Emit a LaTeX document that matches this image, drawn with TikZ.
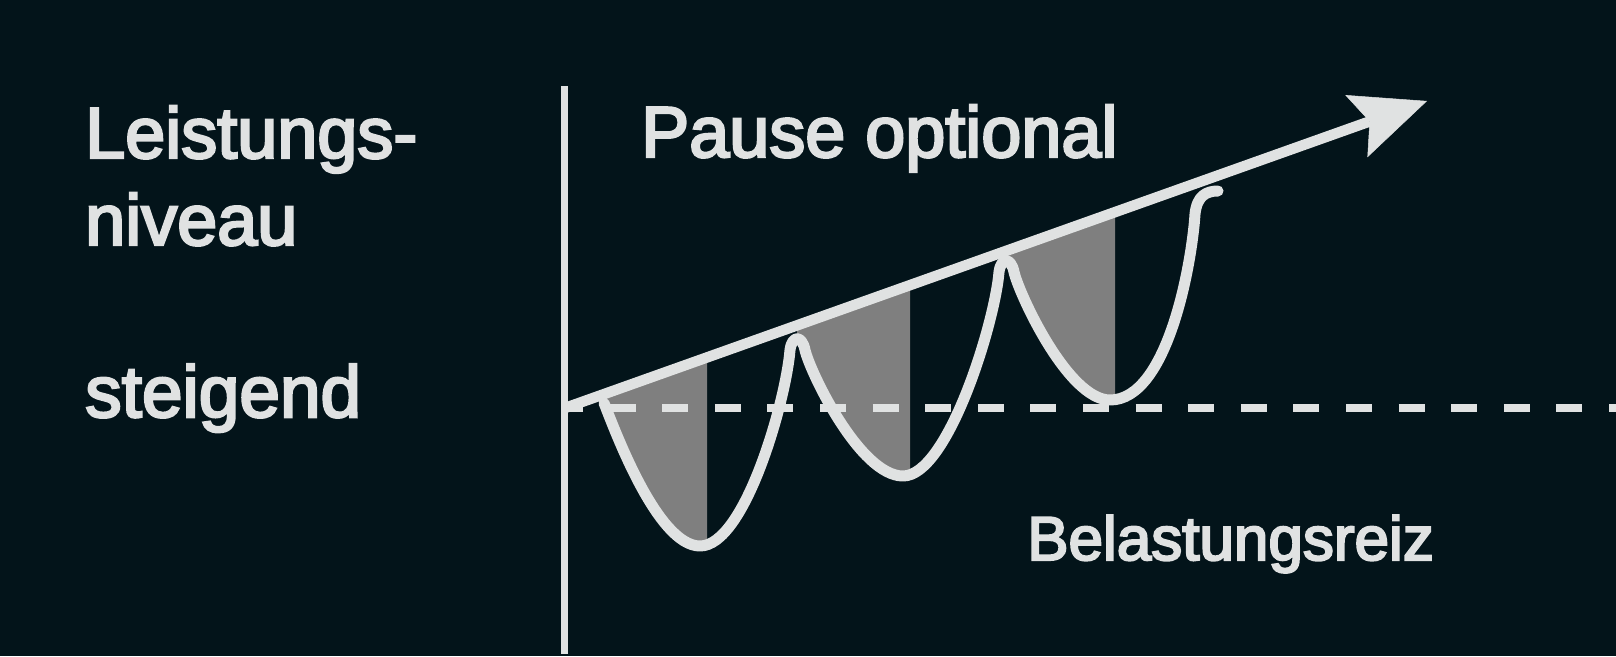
\documentclass[tikz,border=0pt]{standalone}
\usepackage{fontspec}
\setmainfont{Liberation Sans}[BoldFont={Liberation Sans}, BoldFeatures={FakeBold=3.4}]
\usetikzlibrary{arrows.meta}
\definecolor{bgdark}{HTML}{03141A}
\definecolor{chalk}{HTML}{E0E2E2}
\definecolor{shade}{HTML}{7F7F7F}

\begin{document}
\begin{tikzpicture}[x=1pt, y=-1pt]
\tikzstyle{axis_line}=[draw=chalk, line width=6.5pt]
\tikzstyle{trend}=[draw=chalk, line width=10.5pt, -{Stealth[length=75pt, width=66pt, inset=14pt, line width=0.5pt]}]
\tikzstyle{base_line}=[draw=chalk, line width=7.5pt, dash pattern=on 26pt off 26.6pt, dash phase=11pt]
\tikzstyle{wave}=[draw=chalk, line width=11pt, line cap=round, line join=round]
\tikzstyle{recovery}=[fill=shade]
\tikzstyle{big_txt}=[text=chalk, inner sep=0pt, anchor=base west, align=left, font=\fontsize{72}{87}\selectfont\bfseries]
\tikzstyle{small_txt}=[text=chalk, inner sep=0pt, anchor=base west, font=\fontsize{62}{74}\selectfont\bfseries]
%
\useasboundingbox (0,0) rectangle (1616,656);
\fill [bgdark] (0,0) rectangle (1616,656);

% labels
\node [big_txt] (lvl) at (85,245) {Leistungs-\\niveau};
\node [big_txt, font=\fontsize{73}{87}\selectfont\bfseries] (rise) at (85,417) {steigend};
\node [big_txt] (pause) at (641,157) {Pause optional};
\node [small_txt] (load) at (1027,560) {Belastungsreiz};

\coordinate (ax_top) at (564.5,86);
\coordinate (ax_bot) at (564.5,654);
\coordinate (tr_start) at (565,408);
\coordinate (tr_tip) at (1427,101);
\coordinate (bl_start) at (568,408);
\coordinate (bl_end) at (1616,408);

% shaded recovery parts
\path [recovery] (604,403) .. controls (614,428) and (657,546) .. (700,546)
	-- (707,546) -- (707,357) -- (604,394) -- cycle;
\path [recovery] (797,338) -- (805,350) .. controls (810,372) and (860,476) .. (903,476)
	-- (910,476) -- (910,285) -- (797,325) -- cycle;
\path [recovery] (1006,258) -- (1014,272) .. controls (1019,294) and (1068,400) .. (1110,400)
	-- (1115,400) -- (1115,212) -- (1006,251) -- cycle;

\draw [base_line] (bl_start) -- (bl_end);

% load curve
\draw [wave] (604,403) .. controls (614,428) and (657,546) .. (700,546)
	.. controls (745,546) and (786,400) .. (790,350)
	.. controls (792,335) and (802,335) .. (805,350)
	.. controls (810,372) and (860,476) .. (903,476)
	.. controls (948,476) and (995,322) .. (999,272)
	.. controls (1001,257) and (1011,257) .. (1014,272)
	.. controls (1019,294) and (1068,400) .. (1110,400)
	.. controls (1168,400) and (1192,262) .. (1195,214)
	.. controls (1197,196) and (1206,191) .. (1218,191);

\draw [trend] (tr_start) -- (tr_tip);
\draw [axis_line] (ax_top) -- (ax_bot);
\end{tikzpicture}
\end{document}
